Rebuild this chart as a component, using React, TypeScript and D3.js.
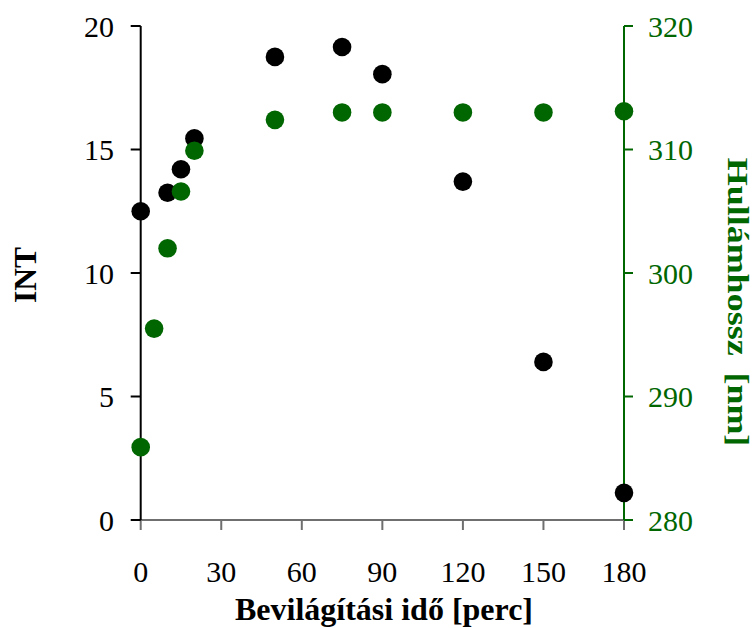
import React from "react";
import * as d3 from "d3";

// Illumination time in minutes
const times = [0, 5, 10, 15, 20, 50, 75, 90, 120, 150, 180];
// Intensity (left axis); no intensity reading at 5 min
const intTimes = [0, 10, 15, 20, 50, 75, 90, 120, 150, 180];
const intValues = [12.5, 13.25, 14.2, 15.45, 18.75, 19.15, 18.05, 13.7, 6.4, 1.1];
// Wavelength in nm (right axis)
const waveValues = [285.9, 295.5, 302.0, 306.6, 309.9, 312.4, 313.0, 313.0, 313.0, 313.0, 313.1];

const xTicks = [0, 30, 60, 90, 120, 150, 180];
const leftTicks = [0, 5, 10, 15, 20];
const rightTicks = [280, 290, 300, 310, 320];

const GREEN = "#006600";
const FONT = "'Liberation Serif', 'Times New Roman', serif";

export default function App() {
  const width = 754;
  const height = 628;
  const left = 140.7;
  const right = 624;
  const top = 26;
  const bottom = 520;

  const x = d3.scaleLinear().domain([0, 180]).range([left, right]);
  const yL = d3.scaleLinear().domain([0, 20]).range([bottom, top]);
  const yR = d3.scaleLinear().domain([280, 320]).range([bottom, top]);

  const r = 9.3;
  const tickFont = 30;

  return (
    <svg
      width={width}
      height={height}
      style={{ position: "absolute", left: 0, top: 0, background: "#fff" }}
      fontFamily={FONT}
    >
      {/* x axis */}
      <line x1={left} x2={right} y1={bottom} y2={bottom} stroke="#6f6f6f" strokeWidth={2} />
      {xTicks.map((t) => (
        <g key={`xt${t}`}>
          <line x1={x(t)} x2={x(t)} y1={bottom} y2={bottom + 10} stroke="#6f6f6f" strokeWidth={2} />
          <text x={x(t)} y={582} textAnchor="middle" fontSize={tickFont} fill="#000">
            {t}
          </text>
        </g>
      ))}
      <text x={384} y={620} textAnchor="middle" fontSize={32} fontWeight="bold" fill="#000">
        Bevilágítási idő [perc]
      </text>

      {/* left axis */}
      <line x1={left} x2={left} y1={top} y2={bottom} stroke="#000" strokeWidth={2} />
      {leftTicks.map((t) => (
        <g key={`lt${t}`}>
          <line x1={left - 10} x2={left} y1={yL(t)} y2={yL(t)} stroke="#000" strokeWidth={2} />
          <text x={114} y={yL(t) + 10.5} textAnchor="end" fontSize={tickFont} fill="#000">
            {t}
          </text>
        </g>
      ))}
      <text
        transform={`translate(36, 275) rotate(-90)`}
        textAnchor="middle"
        fontSize={31.5}
        fontWeight="bold"
        fill="#000"
      >
        INT
      </text>

      {/* right axis */}
      <line x1={right} x2={right} y1={top} y2={bottom} stroke={GREEN} strokeWidth={2} />
      {rightTicks.map((t) => (
        <g key={`rt${t}`}>
          <line x1={right} x2={right + 9} y1={yR(t)} y2={yR(t)} stroke={GREEN} strokeWidth={2} />
          <text x={648} y={yR(t) + 10.5} textAnchor="start" fontSize={tickFont} fill={GREEN}>
            {t}
          </text>
        </g>
      ))}
      <text
        transform={`translate(728, 302) rotate(90) scale(1.2, 1)`}
        textAnchor="middle"
        fontSize={30}
        fontWeight="bold"
        fill={GREEN}
      >
        <tspan>Hullámhossz</tspan>
        <tspan dx={14}>[nm]</tspan>
      </text>

      {/* intensity points */}
      {intTimes.map((t, i) => (
        <circle key={`i${t}`} cx={x(t)} cy={yL(intValues[i])} r={r} fill="#000" />
      ))}
      {/* wavelength points */}
      {times.map((t, i) => (
        <circle key={`w${t}`} cx={x(t)} cy={yR(waveValues[i])} r={r} fill={GREEN} />
      ))}
    </svg>
  );
}
